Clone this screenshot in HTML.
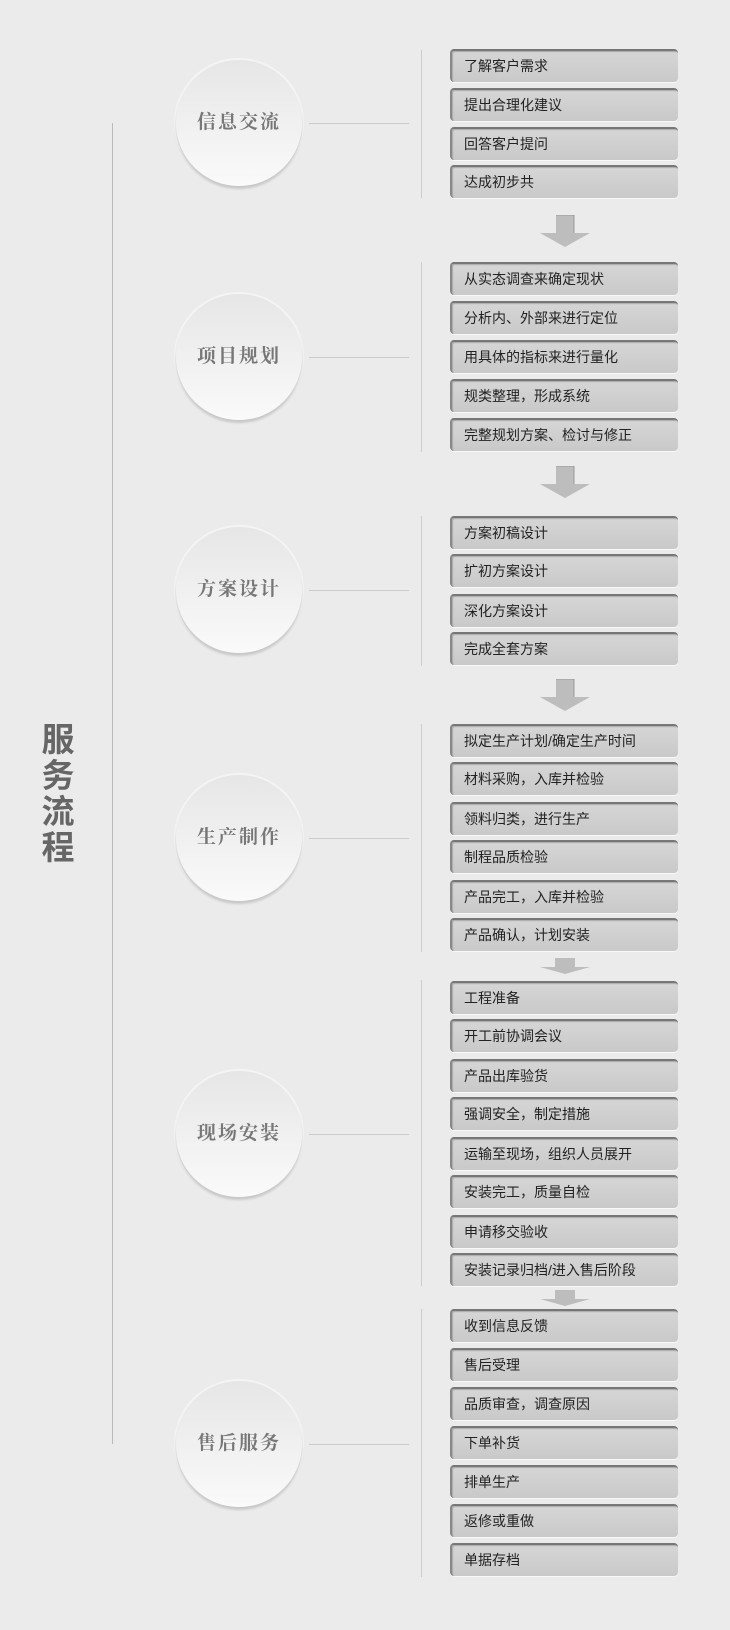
<!DOCTYPE html>
<html><head><meta charset="utf-8"><style>
html,body{margin:0;padding:0}
body{width:730px;height:1630px;background:#ebebeb;position:relative;overflow:hidden;font-family:"Liberation Sans","Noto Sans CJK SC",sans-serif}
.b{position:absolute;left:450px;width:228px;height:33px;box-sizing:border-box;border-radius:4px;background:linear-gradient(#d6d6d6,#c9c9c9);border-top:2px solid #777;border-left:2px solid #888;box-shadow:inset 1px 1px 1px #aaa,0 1px 0 #f8f8f8;font-size:14px;color:#222;line-height:30px;padding-left:12px;white-space:nowrap}
.c{position:absolute;left:176px;width:126px;height:126px;border-radius:50%;background:linear-gradient(#e6e6e6,#fafafa);box-shadow:0 3px 2px #c8c8c8,0 0 0 2px #f4f4f4;text-align:center;line-height:126px;font-family:"Liberation Serif","Noto Serif CJK SC",serif;font-weight:bold;font-size:19px;color:#777;letter-spacing:2px}
.h{position:absolute;left:309px;width:100px;height:1px;background:#ccc}
.v{position:absolute;left:421px;width:1px;background:#ccc}
.a{position:absolute;left:540px;width:50px}
</style></head><body>
<div style="position:absolute;left:112px;top:123px;width:1px;height:1321px;background:#bbb"></div>
<div style="position:absolute;left:40px;top:722px;width:36px;font-size:33px;font-weight:bold;color:#666;line-height:36px;text-align:center">服<br>务<br>流<br>程</div>

<div class="c" style="top:60px">信息交流</div><div class="h" style="top:123px"></div><div class="v" style="top:50px;height:148px"></div>
<div class="b" style="top:49px">了解客户需求</div>
<div class="b" style="top:88px">提出合理化建议</div>
<div class="b" style="top:127px">回答客户提问</div>
<div class="b" style="top:165px">达成初步共</div>
<svg class="a" style="top:215px" height="32" viewBox="0 0 50 32"><path d="M16 0h18v18h16L25 32 0 18h16z" fill="#bdbdbd"/><path d="M16 0h18v18" fill="none" stroke="#999"/></svg>

<div class="c" style="top:294px">项目规划</div><div class="h" style="top:357px"></div><div class="v" style="top:262px;height:190px"></div>
<div class="b" style="top:262px">从实态调查来确定现状</div>
<div class="b" style="top:301px">分析内、外部来进行定位</div>
<div class="b" style="top:340px">用具体的指标来进行量化</div>
<div class="b" style="top:379px">规类整理，形成系统</div>
<div class="b" style="top:418px">完整规划方案、检讨与修正</div>
<svg class="a" style="top:466px" height="32" viewBox="0 0 50 32"><path d="M16 0h18v18h16L25 32 0 18h16z" fill="#bdbdbd"/><path d="M16 0h18v18" fill="none" stroke="#999"/></svg>

<div class="c" style="top:527px">方案设计</div><div class="h" style="top:590px"></div><div class="v" style="top:516px;height:150px"></div>
<div class="b" style="top:516px">方案初稿设计</div>
<div class="b" style="top:554px">扩初方案设计</div>
<div class="b" style="top:594px">深化方案设计</div>
<div class="b" style="top:632px">完成全套方案</div>
<svg class="a" style="top:679px" height="32" viewBox="0 0 50 32"><path d="M16 0h18v18h16L25 32 0 18h16z" fill="#bdbdbd"/><path d="M16 0h18v18" fill="none" stroke="#999"/></svg>

<div class="c" style="top:775px">生产制作</div><div class="h" style="top:838px"></div><div class="v" style="top:724px;height:228px"></div>
<div class="b" style="top:724px">拟定生产计划/确定生产时间</div>
<div class="b" style="top:762px">材料采购，入库并检验</div>
<div class="b" style="top:802px">领料归类，进行生产</div>
<div class="b" style="top:840px">制程品质检验</div>
<div class="b" style="top:880px">产品完工，入库并检验</div>
<div class="b" style="top:918px">产品确认，计划安装</div>
<svg class="a" style="top:958px" height="16" viewBox="0 0 50 16"><path d="M15 0h20v9h15L25 16 0 9h15z" fill="#bdbdbd"/></svg>

<div class="c" style="top:1071px">现场安装</div><div class="h" style="top:1134px"></div><div class="v" style="top:980px;height:306px"></div>
<div class="b" style="top:981px">工程准备</div>
<div class="b" style="top:1019px">开工前协调会议</div>
<div class="b" style="top:1059px">产品出库验货</div>
<div class="b" style="top:1097px">强调安全，制定措施</div>
<div class="b" style="top:1137px">运输至现场，组织人员展开</div>
<div class="b" style="top:1175px">安装完工，质量自检</div>
<div class="b" style="top:1215px">申请移交验收</div>
<div class="b" style="top:1253px">安装记录归档/进入售后阶段</div>
<svg class="a" style="top:1290px" height="16" viewBox="0 0 50 16"><path d="M15 0h20v9h15L25 16 0 9h15z" fill="#bdbdbd"/></svg>

<div class="c" style="top:1381px">售后服务</div><div class="h" style="top:1444px"></div><div class="v" style="top:1309px;height:268px"></div>
<div class="b" style="top:1309px">收到信息反馈</div>
<div class="b" style="top:1348px">售后受理</div>
<div class="b" style="top:1387px">品质审查，调查原因</div>
<div class="b" style="top:1426px">下单补货</div>
<div class="b" style="top:1465px">排单生产</div>
<div class="b" style="top:1504px">返修或重做</div>
<div class="b" style="top:1543px">单据存档</div>
</body></html>
